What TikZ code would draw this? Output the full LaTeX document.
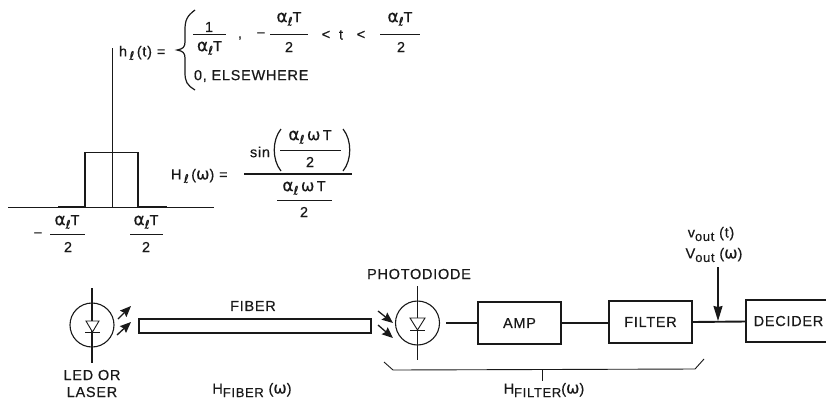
\documentclass[tikz,border=0pt]{standalone}
\usepackage{fontspec}
\setmainfont{Liberation Sans}[FakeBold=0.4,LetterSpace=5]
\newfontfamily\djvfam{DejaVu Sans}[FakeBold=0.3]
\usetikzlibrary{arrows.meta,calc}
\newcommand{\lsub}{\raisebox{-3.5pt}{{\djvfam\fontsize{12}{12}\selectfont ℓ}}}
\newcommand{\al}{{\djvfam\fontsize{17}{17}\selectfont α}\lsub}
\newcommand{\om}{{\djvfam\fontsize{16}{16}\selectfont ω}}
\newcommand{\subt}[1]{\raisebox{-3.5pt}{\fontsize{13}{13}\selectfont #1}}
\tikzset{
  txt/.style={inner sep=0pt,outer sep=0pt,font=\fontsize{14.5}{14.5}\selectfont,text=black!90},
  thinl/.style={line width=0.9pt,black!90},
  med/.style={line width=1.2pt,black!90},
  heavy/.style={line width=1.9pt,black!90},
  boxn/.style={draw=black!90,line width=1.1pt,inner sep=0pt,outer sep=0pt,font=\fontsize{14.5}{14.5}\selectfont,text=black!90},
  dcirc/.style={circle,draw=black!90,line width=1.1pt,minimum size=44pt,inner sep=0pt,outer sep=0pt},
  beam/.style={line width=1.3pt,black!90,-{Stealth[length=11pt,width=9pt,inset=1.5pt]}},
  every node/.append style={txt}
}
\begin{document}
\begin{tikzpicture}[x=1pt,y=-1pt]
\useasboundingbox (0,0) rectangle (826,400);
% pulse graph
\coordinate (axL) at (8,207.5); \coordinate (axR) at (214,207.5);
\coordinate (vT) at (112,48); \coordinate (vB) at (112,207.5);
\draw[thinl] (axL) -- (axR);
\draw[thinl] (vT) -- (vB);
\coordinate (pA) at (58,206.5); \coordinate (pB) at (85,206.5); \coordinate (pC) at (85,152.5);
\coordinate (pD) at (138,152.5); \coordinate (pE) at (138,206.5); \coordinate (pF) at (167,206.5);
\draw[heavy] (pA) -- (pB) -- (pC) -- (pD) -- (pE) -- (pF);
% h(t)
\node[anchor=west] (ht) at (119,53) {h\,\lsub\,(t)\,\,=};
\coordinate (brT) at (195,10); \coordinate (brM) at (177,50); \coordinate (brB) at (195,90);
\draw[med] (brT) .. controls (187,16) and (185,20) .. (185,30) -- (185,42) .. controls (185,47) and (183,49) .. (brM)
  .. controls (183,51) and (185,53) .. (185,58) -- (185,72) .. controls (185,82) and (187,85) .. (brB);
\node (f1n) at (209,27) {1};
\draw[thinl] (193,34) -- (226,34);
\node (f1d) at (209.5,48) {\al T};
\node (comma) at (240,38) {,};
\node (mn1) at (261,35) {−};
\node (f2n) at (289,19) {\al T};
\draw[thinl] (270,34) -- (308,34);
\node (f2d) at (289,47) {2};
\node (lt1) at (326,35) {<};
\node (tt) at (341,35) {t};
\node (lt2) at (361,35) {<};
\node (f3n) at (400,19) {\al T};
\draw[thinl] (380,34) -- (420,34);
\node (f3d) at (401,47) {2};
\node[anchor=west] (else) at (194,76) {0, ELSEWHERE};
% H(w)
\node[anchor=west] (Hw) at (171,176) {H\,\lsub\,(\om)\,\,=};
\node (sin) at (260,152) {sin};
\coordinate (lpT) at (281,129); \coordinate (lpB) at (281,171);
\coordinate (rpT) at (343,129); \coordinate (rpB) at (343,171);
\draw[med] (lpT) .. controls (272,140) and (272,160) .. (lpB);
\draw[med] (rpT) .. controls (352,140) and (352,160) .. (rpB);
\node (gn) at (310,137) {\al\,\om\,T};
\draw[thinl] (280,150) -- (341,150);
\node (gd) at (310,162) {2};
\draw[med] (244,174) -- (352,174);
\node (ln) at (304,188) {\al\,\om\,T};
\draw[thinl] (277,200) -- (332,200);
\node (ld) at (304,212) {2};
% axis labels
\node (mn2) at (38,235) {−};
\node (a1n) at (67,222) {\al T};
\draw[thinl] (50,234) -- (85,234);
\node (a1d) at (68,247) {2};
\node (a2n) at (146,222) {\al T};
\draw[thinl] (130,234) -- (163,234);
\node (a2d) at (146,247) {2};
% LED
\node[dcirc] (led) at (92,325) {};
\coordinate (ledT) at (92,288); \coordinate (ledB) at (92,363);
\draw[med] (ledT) -- (ledB);
\coordinate (la) at (86,321); \coordinate (lb) at (99,321); \coordinate (lc) at (92.5,332);
\draw[line width=0.9pt,black!90,fill=white] (la) -- (lb) -- (lc) -- cycle;
\coordinate (lbA) at (85,332.5); \coordinate (lbB) at (100,332.5);
\draw[med] (lbA) -- (lbB);
\coordinate (b1s) at (118,319); \coordinate (b1e) at (131,306);
\coordinate (b2s) at (117,335); \coordinate (b2e) at (131,322);
\draw[beam] (b1s) -- (b1e);
\draw[beam] (b2s) -- (b2e);
\node[boxn,minimum width=232pt,minimum height=14pt] (fiber) at (255,326) {};
\node (fibl) at (253,306) {FIBER};
\node (ledl) at (92,375) {LED OR};
\node (lasl) at (92,392) {LASER};
\node (hfib) at (252,390) {H\subt{FIBER} (\om)};
% photodiode
\node (pdl) at (419,274) {PHOTODIODE};
\node[dcirc] (pd) at (417.5,323) {};
\coordinate (pdT) at (417.5,286); \coordinate (pdB) at (417.5,360);
\draw[med] (pdT) -- (pdB);
\coordinate (pa) at (410,318); \coordinate (pb) at (425,318); \coordinate (pc) at (417.5,330);
\draw[line width=0.9pt,black!90,fill=white] (pa) -- (pb) -- (pc) -- cycle;
\coordinate (pbA) at (410,330.5); \coordinate (pbB) at (425,330.5);
\draw[med] (pbA) -- (pbB);
\coordinate (b3s) at (378,311); \coordinate (b3e) at (393,323);
\coordinate (b4s) at (378,325); \coordinate (b4e) at (393,338);
\draw[beam] (b3s) -- (b3e);
\draw[beam] (b4s) -- (b4e);
% chain
\node[boxn,minimum width=83pt,minimum height=42pt] (amp) at (519.5,323) {AMP};
\node[boxn,minimum width=83pt,minimum height=42pt] (filter) at (650.5,322) {FILTER};
\coordinate (dTL) at (746,300); \coordinate (dTR) at (826,300);
\coordinate (dBL) at (746,342); \coordinate (dBR) at (826,342);
\draw[line width=1.1pt,black!90] (dTR) -- (dTL) -- (dBL) -- (dBR);
\node (dec) at (788.5,321) {DECIDER};
\coordinate (pdO) at (446,323);
\draw[heavy] (pdO) -- (amp.west);
\draw[heavy] (amp.east) -- (amp.east -| filter.west);
\coordinate (decW) at (746,321.5);
\draw[heavy] (filter.east) -- (decW);
\coordinate (vS) at (718,267); \coordinate (vE) at (718,321);
\draw[line width=1.3pt,black!90,-{Stealth[length=15pt,width=9pt,inset=1pt]}] (vS) -- (vE);
\node (vout) at (711,234) {v\subt{out} (t)};
\node (Vout) at (714,255) {V\subt{out} (\om)};
% brace
\coordinate (bcA) at (384,362); \coordinate (bcB) at (393,370); \coordinate (bcC) at (695,369); \coordinate (bcD) at (704,359);
\draw[line width=0.9pt,black!90] (bcA) -- (bcB) -- (bcC) -- (bcD);
\coordinate (tkA) at (542,369.5); \coordinate (tkB) at (542,381);
\draw[line width=0.9pt,black!90] (tkA) -- (tkB);
\node (hfil) at (544,390) {H\subt{FILTER}(\om)};
\end{tikzpicture}
\end{document}
